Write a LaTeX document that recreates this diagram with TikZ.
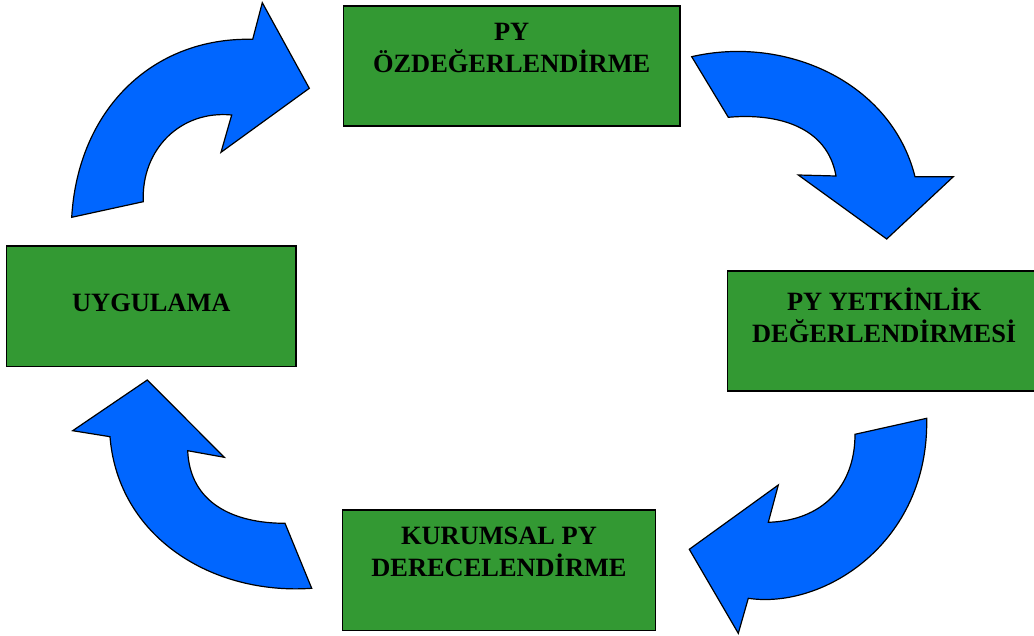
\documentclass[tikz,border=0pt]{standalone}
\usepackage{fontspec}
\setmainfont{Liberation Serif}
\usetikzlibrary{calc}
\definecolor{boxgreen}{HTML}{339933}
\definecolor{arrowblue}{HTML}{0066FF}
\begin{document}
\begin{tikzpicture}[x=1pt,y=-1pt,
  stagebox/.style={draw=black, line width=1.3pt, fill=boxgreen, rectangle, inner sep=0pt},
  stagetext/.style={font=\fontsize{26.4}{32}\selectfont\bfseries, align=center, inner sep=0pt, anchor=north, text=black},
  cyclearrow/.style={draw=black, line width=1.2pt, fill=arrowblue, line join=miter}]
\useasboundingbox (0,0) rectangle (1034,636);

% stage boxes
\node[stagebox, minimum width=336.7pt, minimum height=120pt] (self) at (511.7,66) {};
\node[stagebox, minimum width=313.7pt, minimum height=120pt] (comp) at (884.2,331) {};
\node[stagebox, minimum width=289.3pt, minimum height=120.7pt] (appl) at (151.35,306.3) {};
\node[stagebox, minimum width=312.6pt, minimum height=120.7pt] (rate) at (499,570.3) {};

\node[stagetext] (selft) at ($(self.north)+(0,17.3)$) {PY\\ÖZDEĞERLENDİRME};
\node[stagetext] (compt) at ($(comp.north)+(0,17.3)$) {PY YETKİNLİK\\DEĞERLENDİRMESİ};
\node[stagetext] (applt) at ($(appl.north)+(0,49)$) {UYGULAMA};
\node[stagetext] (ratet) at ($(rate.north)+(0,17.3)$) {KURUMSAL PY\\DERECELENDİRME};

% curved arrows
\draw[cyclearrow] (71.7,217.3) .. controls (78,110) and (152,37) .. (252.7,39.3)
  -- (262.3,2.7) -- (309.3,88.3) -- (221,152.3) -- (231.7,115)
  .. controls (180,110) and (141,150) .. (143.3,201.7) -- cycle;

\draw[cyclearrow] (691.7,56.7) .. controls (785,35) and (891.2,81.6) .. (915,176.7)
  -- (953.3,176.7) -- (886.7,239) -- (798.3,175) -- (836,176)
  .. controls (827.5,127) and (778.3,112.8) .. (728.3,117.3) -- cycle;

\draw[cyclearrow] (926.7,418.3) .. controls (929,543.3) and (823.3,609.5) .. (748.3,598.3)
  -- (738.3,633.3) -- (689.3,549.3) -- (778.3,485) -- (768.3,522.3)
  .. controls (821.3,520.7) and (855,487.3) .. (855,434.3) -- cycle;

\draw[cyclearrow] (311.7,588.3) .. controls (211.7,595.3) and (118,536.7) .. (110,436.7)
  -- (72.7,430.7) -- (147.3,380) -- (224.3,457.3) -- (187.7,450.7)
  .. controls (189.8,502.7) and (233,523.3) .. (285,523.3) -- cycle;
\end{tikzpicture}
\end{document}
